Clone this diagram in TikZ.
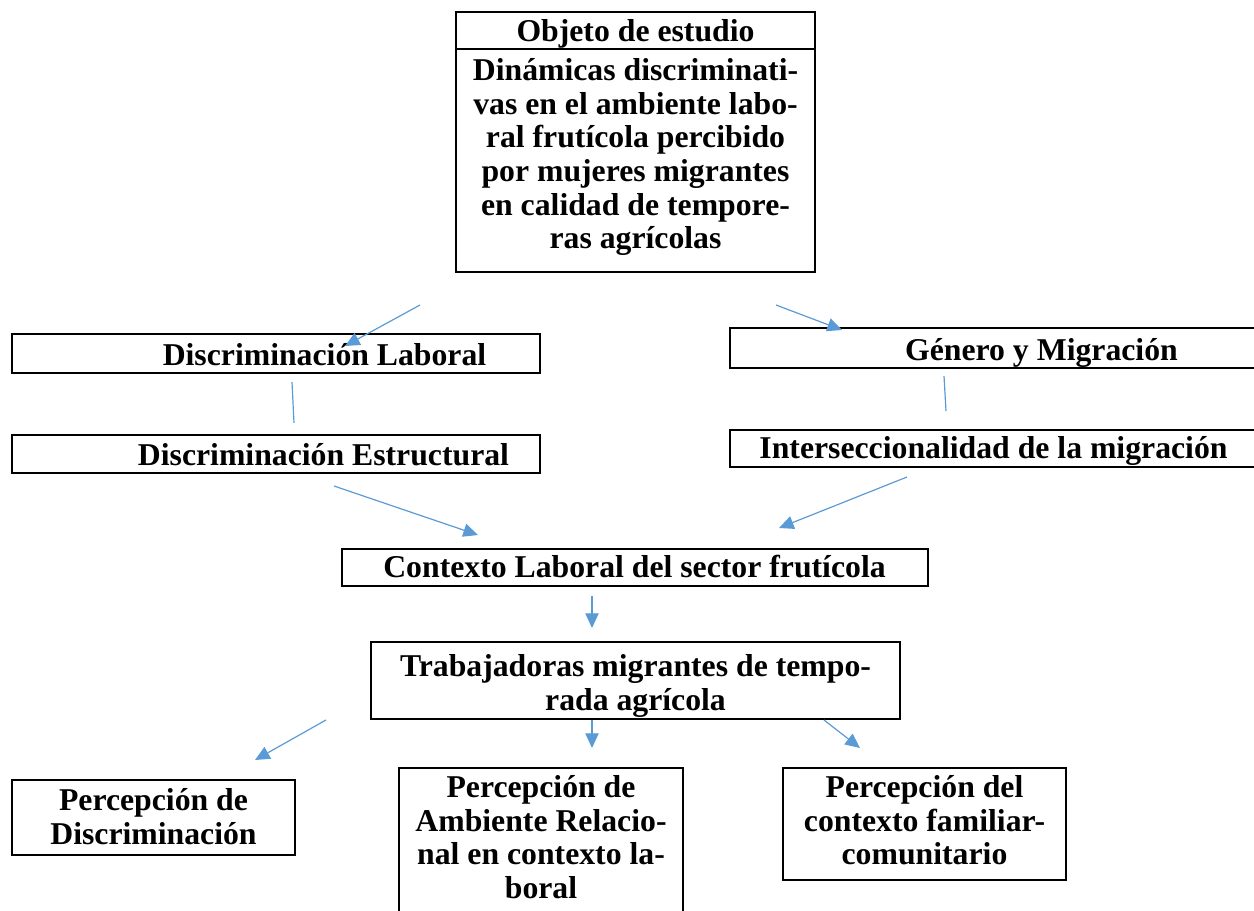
\documentclass[tikz,border=0pt]{standalone}
\usepackage{fontspec}
\setmainfont{Liberation Serif}
\usetikzlibrary{arrows.meta,fit}
\definecolor{arrowblue}{HTML}{5B9BD5}
\begin{document}
\begin{tikzpicture}[x=0.75pt,y=-0.75pt,
  box/.style={draw=black, line width=1.5pt, inner sep=0pt},
  txt/.style={font=\bfseries\fontsize{23.8}{25.3}\selectfont, inner sep=0pt, align=center},
  conn/.style={draw=arrowblue, line width=0.9pt},
  arr/.style={conn, -{Triangle[length=11pt,width=10pt]}}]
\useasboundingbox (0,0) rectangle (1254,911);
\clip (0,0) rectangle (1254,911);

% boxes
\node[box, fit={(456,12) (815,49)}] (title) {};
\node[box, fit={(456,49) (815,272)}] (body) {};
\node[box, fit={(12,334) (540,373)}] (dlab) {};
\node[box, fit={(12,435) (540,473)}] (dest) {};
\node[box, fit={(730,328) (1258,368)}] (gen) {};
\node[box, fit={(730,430) (1258,467)}] (inter) {};
\node[box, fit={(342,549) (928,586)}] (ctx) {};
\node[box, fit={(371,642) (900,719)}] (trab) {};
\node[box, fit={(12,780) (295,855)}] (pdis) {};
\node[box, fit={(399,768) (683,920)}] (pamb) {};
\node[box, fit={(783,768) (1066,880)}] (pfam) {};

% texts
\node[txt, anchor=base] (titletxt) at (635.5,41) {Objeto de estudio};
\node[txt, anchor=north] (bodytxt) at (635.5,48) {\rule{0pt}{24pt}Dinámicas discriminati-\\vas en el ambiente labo-\\ral frutícola percibido\\por mujeres migrantes\\en calidad de tempore-\\ras agrícolas};
\node[txt, anchor=base] (dlabtxt) at (324.5,365) {Discriminación Laboral};
\node[txt, anchor=base] (desttxt) at (323.5,465) {Discriminación Estructural};
\node[txt, anchor=base] (gentxt) at (1041.5,360) {Género y Migración};
\node[txt, anchor=base] (intertxt) at (993.5,458) {Interseccionalidad de la migración};
\node[txt, anchor=base] (ctxtxt) at (634.5,577) {Contexto Laboral del sector frutícola};
\node[txt, anchor=north] (trabtxt) at (635.5,644) {\rule{0pt}{24pt}Trabajadoras migrantes de tempo-\\rada agrícola};
\node[txt, anchor=north] (pdistxt) at (153.5,778) {\rule{0pt}{24pt}Percepción de\\Discriminación};
\node[txt, anchor=north] (pambtxt) at (541,765) {\rule{0pt}{24pt}Percepción de\\Ambiente Relacio-\\nal en contexto la-\\boral};
\node[txt, anchor=north] (pfamtxt) at (924.5,765) {\rule{0pt}{24pt}Percepción del\\contexto familiar-\\comunitario};

% connector end points
\coordinate (a1s) at (420,305); \coordinate (a1e) at (345,346);
\coordinate (a2s) at (776,305); \coordinate (a2e) at (842,330);
\coordinate (l1s) at (292,382); \coordinate (l1e) at (294,423);
\coordinate (l2s) at (944,376); \coordinate (l2e) at (946,411);
\coordinate (a3s) at (334,486); \coordinate (a3e) at (478,535);
\coordinate (a4s) at (907,477); \coordinate (a4e) at (779,528);
\coordinate (a5s) at (592,596); \coordinate (a5e) at (592,628);
\coordinate (a6s) at (326,720); \coordinate (a6e) at (255,760);
\coordinate (a7s) at (592,720); \coordinate (a7e) at (592,748);
\coordinate (a8s) at (824,720); \coordinate (a8e) at (860,748);

\draw[arr] (a1s) -- (a1e);
\draw[arr] (a2s) -- (a2e);
\draw[conn] (l1s) -- (l1e);
\draw[conn] (l2s) -- (l2e);
\draw[arr] (a3s) -- (a3e);
\draw[arr] (a4s) -- (a4e);
\draw[arr] (a5s) -- (a5e);
\draw[arr] (a6s) -- (a6e);
\draw[arr] (a7s) -- (a7e);
\draw[arr] (a8s) -- (a8e);
\end{tikzpicture}
\end{document}
